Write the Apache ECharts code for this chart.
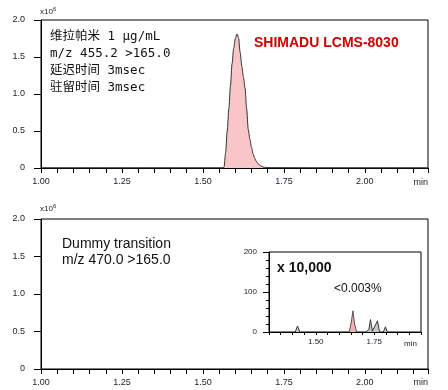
<!DOCTYPE html>
<html>
<head>
<meta charset="utf-8">
<script src="https://cdn.jsdelivr.net/npm/echarts@6/dist/echarts.min.js"></script>
<style>
html,body{margin:0;padding:0;background:#fff;}
#c{width:448px;height:390px;}
</style>
</head>
<body>
<div id="c"></div>
<script>
// ---- data ----
// Top panel: verapamil chromatogram (x10^6)
const topTimes = [1.000, 1.560, 1.565, 1.570, 1.575, 1.580, 1.585, 1.590, 1.595, 1.600, 1.605, 1.610, 1.615, 1.620, 1.625, 1.630, 1.635, 1.640, 1.645, 1.650, 1.655, 1.660, 1.665, 1.670, 1.675, 1.680, 1.685, 1.690, 1.700, 1.750, 1.830, 1.835, 2.195];
const topIntensity = [0, 0, 0.01, 0.20, 0.50, 0.80, 1.11, 1.41, 1.62, 1.75, 1.81, 1.76, 1.56, 1.38, 1.23, 1.08, 0.80, 0.52, 0.39, 0.28, 0.19, 0.13, 0.09, 0.06, 0.04, 0.025, 0.015, 0.01, 0.005, 0.003, 0.002, 0, 0];

// Inset (x 10,000): dummy transition
const insetPinkTimes = [1.643, 1.652, 1.659, 1.666, 1.675];
const insetPinkValues = [0, 25, 53, 20, 0];
const insetGrayTimes = [1.412, 1.422, 1.432, null, 1.715, 1.722, 1.727, 1.734, 1.742, 1.749, 1.764, 1.773, null, 1.789, 1.798, 1.806];
const insetGrayValues = [0, 15, 0, null, 0, 5, 6, 31, 2, 4, 28, 0, null, 0, 13, 0];

// axis labels / texts
const mainXLabels = [1.00, 1.25, 1.50, 1.75, 2.00];
const insetXLabels = [1.50, 1.75];
const topTextLines = ['维拉帕米 1 μg/mL', 'm/z 455.2 >165.0', '延迟时间 3msec', '驻留时间 3msec'];
const bottomTextLines = ['Dummy transition', 'm/z 470.0 >165.0'];

// ---- chart ----
const pairs = (xs, ys) => xs.map((x, i) => (x === null ? null : [x, ys[i]]));
const isLabel = (v, list) => list.some(l => Math.abs(v - l) < 1e-6);
const FONT = "'Liberation Sans', Arial, sans-serif";
const labelColor = '#1c1c2c';

function mainX(grid) {
  return {
    gridIndex: grid, type: 'value', min: 1.0, max: 2.195, interval: 0.05,
    axisLine: { lineStyle: { color: '#000', width: 1 } },
    axisTick: { show: true, length: 5, lineStyle: { color: '#000' } },
    splitLine: { show: false },
    axisLabel: { fontSize: 9, fontFamily: FONT, color: labelColor, margin: 9,
      formatter: v => isLabel(v, mainXLabels) ? v.toFixed(2) : '' }
  };
}
function mainY(grid) {
  return {
    gridIndex: grid, type: 'value', min: 0, max: 2, interval: 0.5,
    axisLine: { show: true, lineStyle: { color: '#000', width: 1 } },
    axisTick: { show: true, length: 7, lineStyle: { color: '#000' } },
    splitLine: { show: false },
    axisLabel: { fontSize: 9, fontFamily: FONT, color: labelColor, margin: 16,
      formatter: v => v === 0 ? '0' : v.toFixed(1) }
  };
}

function txt(text, x, y, opts) {
  opts = opts || {};
  return {
    type: 'text', z: 100,
    style: Object.assign({
      text: text, x: x, y: y,
      fill: opts.fill || '#111',
      font: opts.font || ('12px ' + FONT),
      textAlign: opts.align || 'left', align: opts.align || 'left',
      textVerticalAlign: 'middle', verticalAlign: 'middle'
    })
  };
}

const graphics = [];
// x10^6 labels
graphics.push(txt('x10', 40, 12, { font: '8px ' + FONT, fill: labelColor }));
graphics.push(txt('6', 53, 9, { font: '6px ' + FONT, fill: labelColor }));
graphics.push(txt('x10', 40, 209, { font: '8px ' + FONT, fill: labelColor }));
graphics.push(txt('6', 53, 206, { font: '6px ' + FONT, fill: labelColor }));
// min labels
graphics.push(txt('min', 428, 183, { font: '9px ' + FONT, fill: labelColor, align: 'right' }));
graphics.push(txt('min', 428, 383, { font: '9px ' + FONT, fill: labelColor, align: 'right' }));
graphics.push(txt('min', 417, 344, { font: '8px ' + FONT, fill: labelColor, align: 'right' }));
// top annotation
const topYs = [37, 54, 71, 88];
topTextLines.forEach((t, i) => graphics.push(txt(t, 50, topYs[i], { font: "12.5px 'DejaVu Sans Mono', 'Noto Sans CJK SC', monospace", fill: '#111' })));
graphics.push(txt('SHIMADU LCMS-8030', 254, 43, { font: "bold 14px " + FONT, fill: '#cc0000' }));
// bottom annotation
const botYs = [244, 260];
bottomTextLines.forEach((t, i) => graphics.push(txt(t, 62, botYs[i], { font: '14px ' + FONT, fill: '#111' })));
graphics.push(txt('x 10,000', 277, 268, { font: 'bold 14px ' + FONT, fill: '#111' }));
graphics.push(txt('<0.003%', 334, 289, { font: '12px ' + FONT, fill: '#111' }));

const option = {
  animation: false,
  backgroundColor: '#fff',
  grid: [
    { left: 41, top: 20, width: 387, height: 148, show: true, borderColor: '#000', borderWidth: 1, backgroundColor: 'transparent' },
    { left: 41, top: 219, width: 387, height: 150, show: true, borderColor: '#000', borderWidth: 1, backgroundColor: 'transparent' },
    { left: 269, top: 252, width: 152, height: 80, show: true, borderColor: '#000', borderWidth: 1, backgroundColor: '#fff' }
  ],
  xAxis: [
    mainX(0), mainX(1),
    { gridIndex: 2, type: 'value', min: 1.30, max: 1.95, interval: 0.05,
      axisLine: { lineStyle: { color: '#000', width: 1 } },
      axisTick: { show: true, length: 3, lineStyle: { color: '#000' } },
      splitLine: { show: false },
      axisLabel: { fontSize: 8, fontFamily: FONT, color: labelColor, margin: 6,
        formatter: v => isLabel(v, insetXLabels) ? v.toFixed(2) : '' } }
  ],
  yAxis: [
    mainY(0), mainY(1),
    { gridIndex: 2, type: 'value', min: 0, max: 200, interval: 100,
      axisLine: { show: true, lineStyle: { color: '#000', width: 1 } },
      axisTick: { show: true, length: 6, lineStyle: { color: '#000' } },
      minorTick: { show: true, splitNumber: 5, length: 3, lineStyle: { color: '#000' } },
      splitLine: { show: false },
      axisLabel: { fontSize: 8, fontFamily: FONT, color: labelColor, margin: 12 } }
  ],
  series: [
    { type: 'line', xAxisIndex: 0, yAxisIndex: 0, data: pairs(topTimes, topIntensity),
      symbol: 'none', smooth: 0.3, smoothMonotone: 'x',
      lineStyle: { color: '#333', width: 1 },
      areaStyle: { color: '#f8c6c6', opacity: 1 } },
    { type: 'line', xAxisIndex: 2, yAxisIndex: 2, data: pairs(insetPinkTimes, insetPinkValues),
      symbol: 'none', lineStyle: { color: '#555', width: 1 },
      areaStyle: { color: '#f3b0b0', opacity: 1 } },
    { type: 'line', xAxisIndex: 2, yAxisIndex: 2, data: pairs(insetGrayTimes, insetGrayValues),
      symbol: 'none', connectNulls: false, lineStyle: { color: '#333', width: 1 },
      areaStyle: { color: '#c8c8c8', opacity: 1 } }
  ],
  graphic: graphics
};

const chart = echarts.init(document.getElementById('c'), null, { renderer: 'canvas' });
chart.setOption(option);
</script>
</body>
</html>
